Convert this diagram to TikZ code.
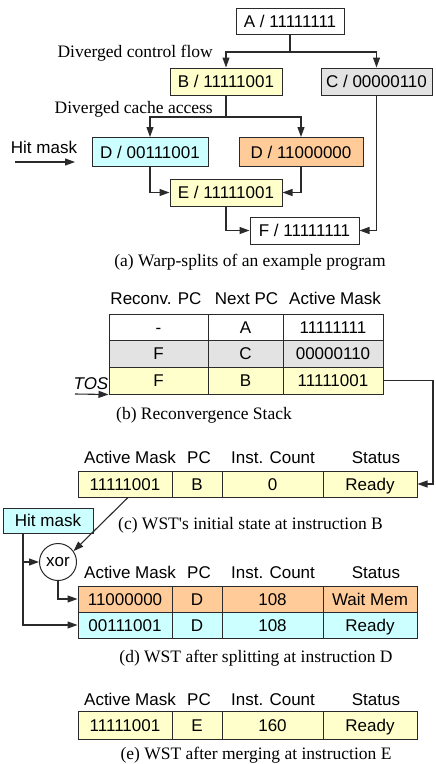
\documentclass[tikz,border=0pt]{standalone}
\usepackage{fontspec}
\newfontfamily\sansf{Liberation Sans}
\newfontfamily\seriff{Liberation Serif}
\usetikzlibrary{arrows.meta}
\definecolor{ylw}{HTML}{FFFFCC}
\definecolor{gry}{HTML}{E3E3E3}
\definecolor{cyn}{HTML}{CCFFFF}
\definecolor{org}{HTML}{FFCC99}
\definecolor{linec}{HTML}{2A2A2A}
\begin{document}
\begin{tikzpicture}[x=1pt,y=-1pt,
  lbl/.style={font=\sansf\fontsize{17}{19}\selectfont},
  captxt/.style={font=\seriff\fontsize{17.5}{20}\selectfont, anchor=base, inner sep=0pt},
  hdr/.style={lbl, anchor=base, inner sep=0pt},
  cellbox/.style={draw=linec, line width=1pt, inner sep=0pt, text height=12.2pt, text depth=0pt, lbl},
  conn/.style={draw=linec, line width=1.1pt},
  arr/.style={conn, -{Triangle[length=10pt,width=7pt]}}
]
\useasboundingbox (0,0) rectangle (436,764);
\fill[white] (0,0) rectangle (436,764);

% ---------- (a) ----------
\node[cellbox, fill=white, minimum width=108pt, minimum height=26pt] (A) at (290,21) {A / 11111111};
\node[cellbox, fill=ylw, minimum width=112pt, minimum height=27pt] (B) at (226,81.5) {B / 11111001};
\node[cellbox, fill=gry, minimum width=111pt, minimum height=27pt] (C) at (376.5,81.5) {C / 00000110};
\node[cellbox, fill=cyn, minimum width=116pt, minimum height=29pt] (D1) at (150,152) {D / 00111001};
\node[cellbox, fill=org, minimum width=124pt, minimum height=29pt] (D2) at (301,152) {D / 11000000};
\node[cellbox, fill=ylw, minimum width=112pt, minimum height=27pt] (E) at (226,192.5) {E / 11111001};
\node[cellbox, fill=white, minimum width=109pt, minimum height=27pt] (F) at (304.5,230.5) {F / 11111111};

\coordinate (ab) at (290,52);
\draw[conn] (A.south) -- (ab);
\draw[arr] (ab) -| (B.north);
\draw[arr] (ab) -| (C.north);
\coordinate (bd) at (226,117);
\draw[conn] (B.south) -- (bd);
\draw[arr] (bd) -| (D1.north);
\draw[arr] (bd) -| (D2.north);
\draw[arr] (D1.south) |- (E.west);
\draw[arr] (D2.south) |- (E.east);
\draw[arr] (E.south) |- (F.west);
\draw[arr] (C.south) |- (F.east);

\node[captxt, anchor=base east] (dcf) at (213,57.5) {Diverged control flow};
\node[captxt, anchor=base east] (dca) at (213,113.5) {Diverged cache access};
\node[hdr] (hma) at (44,153) {Hit mask};
\coordinate (hm1) at (15,162);
\coordinate (hm2) at (75,162);
\draw[arr] (hm1) -- (hm2);
\node[captxt] (capa) at (250,266) {(a) Warp-splits of an example program};

% ---------- (b) ----------
\node[hdr] (bh1) at (156,304.5) {Reconv. PC};
\node[hdr] (bh2) at (246.5,304.5) {Next PC};
\node[hdr] (bh3) at (335,304.5) {Active Mask};

\node[cellbox, fill=white, minimum width=99pt, minimum height=26pt] (b11) at (158.5,327) {-};
\node[cellbox, fill=white, minimum width=75pt, minimum height=26pt] (b12) at (245.5,327) {A};
\node[cellbox, fill=white, minimum width=100pt, minimum height=26pt] (b13) at (333,327) {11111111};
\node[cellbox, fill=gry, minimum width=99pt, minimum height=27pt] (b21) at (158.5,353.5) {F};
\node[cellbox, fill=gry, minimum width=75pt, minimum height=27pt] (b22) at (245.5,353.5) {C};
\node[cellbox, fill=gry, minimum width=100pt, minimum height=27pt] (b23) at (333,353.5) {00000110};
\node[cellbox, fill=ylw, minimum width=99pt, minimum height=27pt] (b31) at (158.5,380.5) {F};
\node[cellbox, fill=ylw, minimum width=75pt, minimum height=27pt] (b32) at (245.5,380.5) {B};
\node[cellbox, fill=ylw, minimum width=100pt, minimum height=27pt] (b33) at (333,380.5) {11111001};

\node[hdr, font=\sansf\itshape\fontsize{17}{19}\selectfont] (tos) at (91,389) {TOS};
\coordinate (tos1) at (75,394);
\draw[arr] (tos1) -- (b31.south west);
\node[captxt] (capb) at (204,419.5) {(b) Reconvergence Stack};

% ---------- (c) ----------
\node[hdr] (ch1) at (130,463) {Active Mask};
\node[hdr] (ch2) at (199,463) {PC};
\node[hdr] (ch3) at (273,463) {Inst. Count};
\node[hdr] (ch4) at (376,463) {Status};
\node[cellbox, fill=ylw, minimum width=94pt, minimum height=26pt] (c1) at (125,484) {11111001};
\node[cellbox, fill=ylw, minimum width=50pt, minimum height=26pt] (c2) at (197,484) {B};
\node[cellbox, fill=ylw, minimum width=101pt, minimum height=26pt] (c3) at (272.5,484) {0};
\node[cellbox, fill=ylw, minimum width=94pt, minimum height=26pt] (c4) at (370,484) {Ready};
\coordinate (turn) at (433,380.5);
\draw[arr] (b33.east) -- (turn) |- (c4.east);
\node[captxt] (capc) at (250.5,529) {(c) WST's initial state at instruction B};

% ---------- (d) ----------
\node[cellbox, fill=cyn, minimum width=90pt, minimum height=25pt] (hm) at (48,520.5) {Hit mask};
\node[draw=linec, line width=1pt, circle, minimum size=37pt, inner sep=0pt, fill=white, lbl] (xor) at (58,562) {xor};
\draw[arr] ([xshift=3pt]c1.south) -- (xor.35);
\coordinate (hmb) at ([xshift=-25pt]hm.south);
\draw[arr] (hmb) |- (xor.west);

\node[hdr] (dh1) at (130,578.5) {Active Mask};
\node[hdr] (dh2) at (199,578.5) {PC};
\node[hdr] (dh3) at (273,578.5) {Inst. Count};
\node[hdr] (dh4) at (376,578.5) {Status};
\node[cellbox, fill=org, minimum width=94pt, minimum height=26pt] (d11) at (125,599) {11000000};
\node[cellbox, fill=org, minimum width=50pt, minimum height=26pt] (d12) at (197,599) {D};
\node[cellbox, fill=org, minimum width=101pt, minimum height=26pt] (d13) at (272.5,599) {108};
\node[cellbox, fill=org, minimum width=94pt, minimum height=26pt] (d14) at (370,599) {Wait Mem};
\node[cellbox, fill=cyn, minimum width=94pt, minimum height=26pt] (d21) at (125,625) {00111001};
\node[cellbox, fill=cyn, minimum width=50pt, minimum height=26pt] (d22) at (197,625) {D};
\node[cellbox, fill=cyn, minimum width=101pt, minimum height=26pt] (d23) at (272.5,625) {108};
\node[cellbox, fill=cyn, minimum width=94pt, minimum height=26pt] (d24) at (370,625) {Ready};
\draw[arr] (hmb) |- (d21.west);
\draw[arr] (xor.south) |- (d11.west);
\node[captxt] (capd) at (256,662) {(d) WST after splitting at instruction D};

% ---------- (e) ----------
\node[hdr] (eh1) at (130,705) {Active Mask};
\node[hdr] (eh2) at (199,705) {PC};
\node[hdr] (eh3) at (273,705) {Inst. Count};
\node[hdr] (eh4) at (376,705) {Status};
\node[cellbox, fill=ylw, minimum width=94pt, minimum height=28pt] (e1) at (125,725) {11111001};
\node[cellbox, fill=ylw, minimum width=50pt, minimum height=28pt] (e2) at (197,725) {E};
\node[cellbox, fill=ylw, minimum width=101pt, minimum height=28pt] (e3) at (272.5,725) {160};
\node[cellbox, fill=ylw, minimum width=94pt, minimum height=28pt] (e4) at (370,725) {Ready};
\node[captxt] (cape) at (256,759) {(e) WST after merging at instruction E};
\end{tikzpicture}
\end{document}
